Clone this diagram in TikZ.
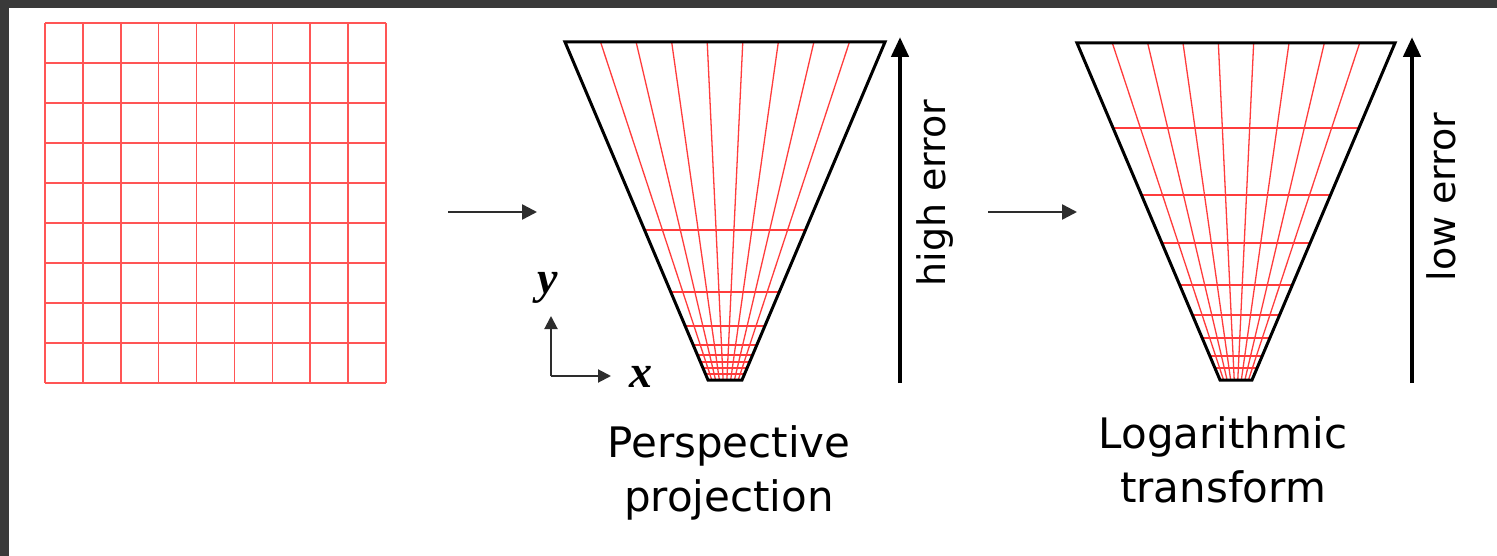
\documentclass[tikz,border=0pt]{standalone}
\usepackage{fontspec}
\setmainfont{DejaVu Sans}
\newfontfamily\axisfont{Liberation Serif}
\usetikzlibrary{arrows.meta}
\definecolor{gridred}{RGB}{255,85,85}
\definecolor{fanred}{RGB}{255,60,60}
\definecolor{framegray}{RGB}{58,58,58}
\definecolor{arrowgray}{RGB}{45,45,45}
\begin{document}
\begin{tikzpicture}[x=1pt,y=-1pt,
  gridline/.style={gridred,line width=1.5pt},
  fanline/.style={fanred,line width=1.3pt},
  frustum/.style={black,line width=3pt,line join=miter},
  bigarrow/.style={black,line width=4.5pt,-{Triangle[length=20pt,width=17pt]}},
  smallarrow/.style={arrowgray,line width=2.5pt,-{Triangle[length=15pt,width=15pt]}},
  axisarrow/.style={arrowgray,line width=2pt,-{Triangle[length=13pt,width=13pt]}},
  caption/.style={anchor=base,inner sep=0pt,font=\fontsize{42}{50}\selectfont},
  sidelabel/.style={anchor=base,inner sep=0pt,rotate=90,font=\fontsize{38}{46}\selectfont},
  axislabel/.style={anchor=base,inner sep=0pt,font=\axisfont\bfseries\itshape\fontsize{46}{54}\selectfont}]
\useasboundingbox (0,0) rectangle (1497,556);
\fill[white] (0,0) rectangle (1497,556);
\fill[framegray] (0,0) rectangle (1497,8.5);
\fill[framegray] (0,0) rectangle (8.5,556);

% source grid
\foreach \i in {0,...,9} {
  \draw[gridline] ({45+\i*341/9},23) -- ({45+\i*341/9},383);
  \draw[gridline] (45,{23+\i*40}) -- (386,{23+\i*40});
}

% perspective frustum
\coordinate (PTL) at (565,42);
\coordinate (PTR) at (885,42);
\coordinate (PBR) at (742,380);
\coordinate (PBL) at (708,380);
\foreach \i in {1,...,8}
  \draw[fanline] ({565+\i*320/9},42) -- ({708+\i*34/9},380);
\foreach \yy in {230,292,326,345,355,362,368,374} {
  \pgfmathsetmacro\hw{17+(380-\yy)/338*143}
  \draw[fanline] ({725-\hw},\yy) -- ({725+\hw},\yy);
}
\draw[frustum] (PTL) -- (PTR) -- (PBR) -- (PBL) -- cycle;

% logarithmic frustum
\coordinate (LTL) at (1077,43);
\coordinate (LTR) at (1395,43);
\coordinate (LBR) at (1252,380);
\coordinate (LBL) at (1220,380);
\foreach \i in {1,...,8}
  \draw[fanline] ({1077+\i*318/9},43) -- ({1220+\i*32/9},380);
\foreach \yy in {128,195,243,285,315,338,356,368} {
  \pgfmathsetmacro\hw{16+(380-\yy)/337*143}
  \draw[fanline] ({1236-\hw},\yy) -- ({1236+\hw},\yy);
}
\draw[frustum] (LTL) -- (LTR) -- (LBR) -- (LBL) -- cycle;

% arrows between panels
\coordinate (A1s) at (448,212);
\coordinate (A1e) at (537,212);
\coordinate (A2s) at (988,212);
\coordinate (A2e) at (1077,212);
\draw[smallarrow] (A1s) -- (A1e);
\draw[smallarrow] (A2s) -- (A2e);

% error arrows
\coordinate (HA0) at (900,383);
\coordinate (HA1) at (900,37);
\coordinate (LA0) at (1412,383);
\coordinate (LA1) at (1412,37);
\draw[bigarrow] (HA0) -- (HA1);
\draw[bigarrow] (LA0) -- (LA1);
\node[sidelabel] (high) at (945,193) {high error};
\node[sidelabel] (low) at (1455,197) {low error};

% axes
\coordinate (O) at (551,376);
\coordinate (AY) at (551,316);
\coordinate (AX) at (611,376);
\draw[axisarrow] (O) -- (AY);
\draw[axisarrow] (O) -- (AX);
\node[axislabel] (ylab) at (548,294) {y};
\node[axislabel] (xlab) at (641,387) {x};

% captions
\node[caption] (cap1a) at (729,457) {Perspective};
\node[caption] (cap1b) at (729,511) {projection};
\node[caption] (cap2a) at (1223,448) {Logarithmic};
\node[caption] (cap2b) at (1223,502) {transform};
\end{tikzpicture}
\end{document}
